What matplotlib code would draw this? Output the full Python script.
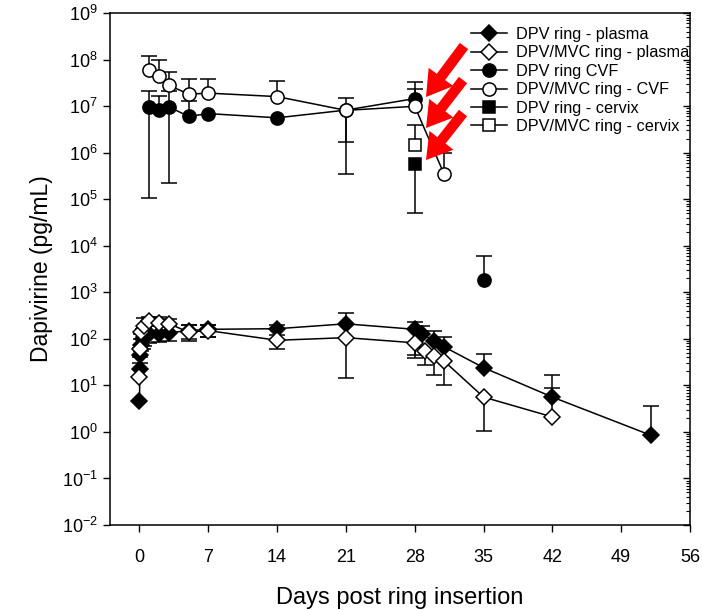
import numpy as np
import matplotlib
matplotlib.use("Agg")
import matplotlib.pyplot as plt
from matplotlib.ticker import FixedLocator, FuncFormatter, LogLocator, NullLocator
from matplotlib.lines import Line2D

plt.rcParams['font.family'] = ['Liberation Sans', 'DejaVu Sans']
plt.rcParams['mathtext.fontset'] = 'custom'
plt.rcParams['mathtext.rm'] = 'Liberation Sans'
plt.rcParams['mathtext.it'] = 'Liberation Sans'
plt.rcParams['mathtext.bf'] = 'Liberation Sans'

# ---------------- data ----------------
# plasma, DPV ring (filled diamonds)
pl_dpv_days = [0, 0.04, 0.08, 0.17, 0.33, 0.5, 1, 2, 3, 5, 7, 14, 21, 28, 28.7, 30, 31, 35, 42, 52]
pl_dpv_vals = [4.6, 23, 45, 75, 100, 110, 125, 125, 135, 150, 160, 165, 210, 160, 125, 90, 67, 24, 5.6, 0.85]
pl_dpv_hi = [None, 40, 65, 130, 160, 170, 200, 190, 190, 200, 200, 200, 350, 230, 190, 150, 110, 48, 17, 3.6]
pl_dpv_lo = [None, None, 30, 55, 60, 70, 80, 85, 90, 100, 110, 120, None, 45, None, None, None, None, None, None]

# plasma, DPV/MVC ring (open diamonds)
pl_mvc_days = [0, 0.04, 0.17, 0.5, 1, 2, 3, 5, 7, 14, 21, 28, 29, 30, 31, 35, 42]
pl_mvc_vals = [15, 60, 140, 190, 240, 220, 210, 140, 150, 93, 106, 82, 55, 43, 33, 5.6, 2.1]
pl_mvc_hi = [None, None, None, 280, 300, 290, 270, 200, 200, None, None, None, None, None, None, None, 8.9]
pl_mvc_lo = [None, None, 100, None, None, None, None, 90, 110, 60, 14.5, 39, 27, 17, 10, 1.07, None]

# CVF, DPV ring (filled circles)
cvf_dpv_days = [1, 2, 3, 5, 7, 14, 21, 28]
cvf_dpv_vals = [9.6e6, 8.1e6, 9.6e6, 6.0e6, 6.9e6, 5.6e6, 8.2e6, 1.45e7]
cvf_dpv_hi = [2.1e7, 1.65e7, 2.1e7, 1.3e7, None, None, None, 3.3e7]
cvf_dpv_lo = [1.05e5, None, 2.2e5, None, None, None, 1.7e6, None]
# CVF, DPV ring after removal (unconnected)
cvf_dpv_post_days = [35]
cvf_dpv_post_vals = [1.85e3]
cvf_dpv_post_hi = [6.0e3]
cvf_dpv_post_lo = [None]

# CVF, DPV/MVC ring (open circles)
cvf_mvc_days = [1, 2, 3, 5, 7, 14, 21, 28, 31]
cvf_mvc_vals = [6.1e7, 4.5e7, 2.8e7, 1.8e7, 1.9e7, 1.6e7, 8.1e6, 9.9e6, 3.4e5]
cvf_mvc_hi = [1.2e8, 9.8e7, 5.4e7, 3.8e7, 3.8e7, 3.4e7, 1.5e7, 2.3e7, 1.0e6]
cvf_mvc_lo = [None, None, None, None, None, None, 3.4e5, None, None]

# cervix tissue
cx_dpv_days = [28]
cx_dpv_vals = [5.6e5]
cx_dpv_hi = [None]
cx_dpv_lo = [5.0e4]
cx_mvc_days = [28]
cx_mvc_vals = [1.43e6]
cx_mvc_hi = [3.9e6]
cx_mvc_lo = [None]

x_ticks = [0, 7, 14, 21, 28, 35, 42, 49, 56]
y_decades = list(range(-2, 10))

labels = ["DPV ring - plasma", "DPV/MVC ring - plasma", "DPV ring CVF",
          "DPV/MVC ring - CVF", "DPV ring - cervix", "DPV/MVC ring - cervix"]

# ---------------- figure ----------------
W, H = 702, 610
fig = plt.figure(figsize=(W / 100, H / 100), dpi=100)
L, R, T, B = 110, 690, 13, 525
ax = fig.add_axes([L / W, 1 - B / H, (R - L) / W, (B - T) / H])

LW = 1.1
CAPMS = 11.5


def draw(days, vals, hi, lo, marker, ms, filled, connect=True, z=3):
    d = np.asarray(days, float)
    v = np.asarray(vals, float)
    up = np.array([0 if h is None else h - vv for h, vv in zip(hi, v)], float)
    dn = np.array([0 if l is None else vv - l for l, vv in zip(lo, v)], float)
    ax.errorbar(d, v, yerr=[dn, up], fmt='none', ecolor='black', elinewidth=LW,
                capsize=0, zorder=z - 1)
    hi_pts = [(dd, h) for dd, h in zip(d, hi) if h is not None]
    lo_pts = [(dd, l) for dd, l in zip(d, lo) if l is not None]
    caps = hi_pts + lo_pts
    if caps:
        ax.plot([c[0] for c in caps], [c[1] for c in caps], ls='none', marker='_',
                ms=CAPMS, mew=LW, color='black', zorder=z - 1)
    ax.plot(d, v, ls='-' if connect else 'none', color='black', lw=LW,
            marker=marker, ms=ms, mec='black', mew=LW,
            mfc='black' if filled else 'white', zorder=z)


DMS, CMS, SMS = 7.8, 9.5, 8.0
draw(cvf_dpv_days, cvf_dpv_vals, cvf_dpv_hi, cvf_dpv_lo, 'o', CMS, True, z=3)
draw(cvf_dpv_post_days, cvf_dpv_post_vals, cvf_dpv_post_hi, cvf_dpv_post_lo, 'o', CMS, True, connect=False, z=3)
draw(cvf_mvc_days, cvf_mvc_vals, cvf_mvc_hi, cvf_mvc_lo, 'o', CMS, False, z=4)
draw(cx_mvc_days, cx_mvc_vals, cx_mvc_hi, cx_mvc_lo, 's', SMS, False, connect=False, z=5)
draw(cx_dpv_days, cx_dpv_vals, cx_dpv_hi, cx_dpv_lo, 's', SMS, True, connect=False, z=6)
draw(pl_dpv_days, pl_dpv_vals, pl_dpv_hi, pl_dpv_lo, 'D', DMS, True, z=3)
draw(pl_mvc_days, pl_mvc_vals, pl_mvc_hi, pl_mvc_lo, 'D', DMS, False, z=4)

ax.set_yscale('log')
ax.set_ylim(10.0 ** y_decades[0], 10.0 ** y_decades[-1])
ax.set_xlim(-3, 56)
ax.xaxis.set_major_locator(FixedLocator(x_ticks))
ax.yaxis.set_major_locator(FixedLocator([10.0 ** k for k in y_decades]))
ax.yaxis.set_minor_locator(NullLocator())
ax.yaxis.set_major_formatter(FuncFormatter(lambda v, p: r'$10^{%d}$' % int(round(np.log10(v)))))
ax.tick_params(axis='y', which='major', direction='out', length=5, width=1.0,
               labelsize=13, pad=4, right=False)
ax.tick_params(axis='x', which='major', direction='out', length=5, width=1.0,
               labelsize=13, pad=12, top=False)
for s in ax.spines.values():
    s.set_linewidth(1.1)

ax2 = ax.twinx()
ax2.set_yscale('log')
ax2.set_ylim(ax.get_ylim())
ax2.yaxis.set_major_locator(FixedLocator([10.0 ** k for k in y_decades]))
ax2.yaxis.set_minor_locator(LogLocator(base=10, subs=np.arange(2, 10), numticks=50))
ax2.tick_params(axis='y', which='major', direction='in', length=5, width=1.0, labelright=False)
ax2.tick_params(axis='y', which='minor', direction='in', length=3, width=0.8, labelright=False)
for s in ax2.spines.values():
    s.set_visible(False)

ax.set_xlabel("Days post ring insertion", fontsize=17)
ax.set_ylabel("Dapivirine (pg/mL)", fontsize=16.5)
ax.xaxis.set_label_coords(0.5, -0.122)
ax.yaxis.set_label_coords(-0.098, 0.5)

# legend
def h(marker, ms, filled):
    return Line2D([], [], color='black', lw=LW, marker=marker, ms=ms, mec='black',
                  mew=LW, mfc='black' if filled else 'white')

handles = [h('D', DMS, True), h('D', DMS, False), h('o', CMS, True),
           h('o', CMS, False), h('s', SMS, True), h('s', SMS, False)]
leg = ax.legend(handles, labels, loc='upper left',
                bbox_to_anchor=((471 - L) / (R - L), (B - 27) / (B - T)),
                frameon=False, fontsize=11.7, handlelength=2.2, handletextpad=0.55,
                labelspacing=0.21, borderaxespad=0, borderpad=0)
leg.set_zorder(10)

# red arrows pointing at the day-28 tissue points (axes-fraction placement)
def afx(px):
    return (px - L) / (R - L)

def afy(py):
    return (B - py) / (B - T)

arrows = [((464, 46), (426, 97)), ((463, 80), (426, 128)), ((463, 113), (426, 160))]
for (tx, ty), (hx, hy) in arrows:
    ax.annotate('', xy=(afx(hx), afy(hy)), xycoords='axes fraction',
                xytext=(afx(tx), afy(ty)), textcoords='axes fraction',
                arrowprops=dict(arrowstyle='simple,head_length=1.8,head_width=2.2,tail_width=0.75',
                                color='#ff0000', lw=0, shrinkA=0, shrinkB=0,
                                mutation_scale=10), zorder=8)

fig.savefig("out.png", dpi=100)
